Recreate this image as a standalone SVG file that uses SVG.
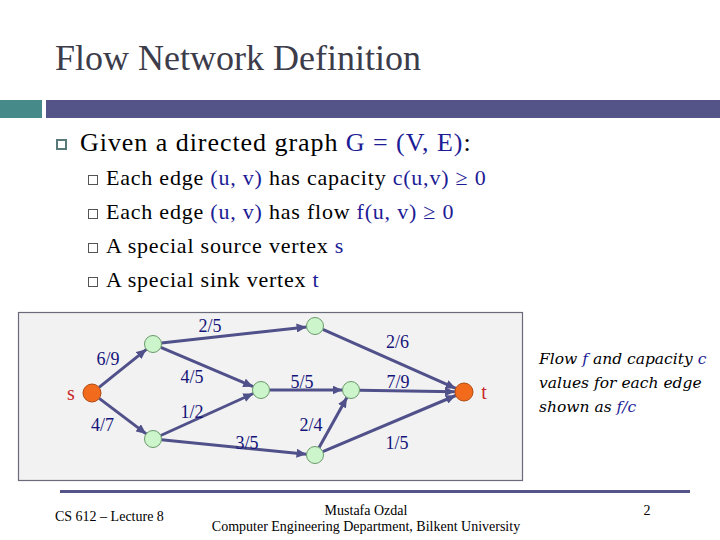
<svg xmlns="http://www.w3.org/2000/svg" width="720" height="540" viewBox="0 0 720 540">
<defs>
<style>
text{font-family:"Liberation Serif","Times New Roman",serif}
.title{font-size:36px;fill:#3c3c4a}
.main{font-size:26px;letter-spacing:0.95px;fill:#000}
.sub{font-size:22px;letter-spacing:0.78px;fill:#000}
.blue{fill:#1c1c96}
.lbl{font-size:18px;fill:#14147a}
.st{font-size:20px;fill:#c8282a}
.note{font-family:"DejaVu Serif",serif;font-style:italic;font-size:15.5px;fill:#000}
.foot{font-size:14px;fill:#000}
.edge{stroke:#50508a;stroke-width:3;fill:none;marker-end:url(#arr)}
.v{fill:#ccf5cc;stroke:#6a9a6a;stroke-width:1}
.term{fill:#f26a1c;stroke:#b04a10;stroke-width:1}
.subbox{fill:#fff;stroke:#555;stroke-width:1}
</style>
<marker id="arr" markerUnits="userSpaceOnUse" markerWidth="11" markerHeight="9" refX="10" refY="4.5" orient="auto">
<path d="M0,0 L10,4.5 L0,9 z" fill="#50508a"/>
</marker>
</defs>
<rect x="0" y="0" width="720" height="540" fill="#fff"/>
<text class="title" x="55" y="70">Flow Network Definition</text>
<rect x="0" y="100" width="42" height="18" fill="#468a8a"/>
<rect x="46" y="100" width="674" height="18" fill="#545489"/>
<rect x="57" y="140" width="9" height="9" fill="#fff" stroke="#5a7a7a" stroke-width="2"/>
<text class="main" x="80" y="151">Given a directed graph <tspan class="blue">G = (V, E)</tspan>:</text>
<rect class="subbox" x="88.5" y="175.5" width="9" height="9"/>
<text class="sub" x="106" y="185">Each edge <tspan class="blue">(u, v)</tspan> has capacity <tspan class="blue">c(u,v) ≥ 0</tspan></text>
<rect class="subbox" x="88.5" y="209.5" width="9" height="9"/>
<text class="sub" x="106" y="219">Each edge <tspan class="blue">(u, v)</tspan> has flow <tspan class="blue">f(u, v) ≥ 0</tspan></text>
<rect class="subbox" x="88.5" y="243.5" width="9" height="9"/>
<text class="sub" x="106" y="253">A special source vertex <tspan class="blue">s</tspan></text>
<rect class="subbox" x="88.5" y="277.5" width="9" height="9"/>
<text class="sub" x="106" y="287">A special sink vertex <tspan class="blue">t</tspan></text>
<rect x="18.5" y="312.5" width="504" height="168" fill="#f2f2f2" stroke="#6a6a7a" stroke-width="1.2"/>
<g id="connectors">
<line class="edge" x1="99" y1="387.4" x2="146.4" y2="349.3"/>
<line class="edge" x1="99.2" y1="398.4" x2="146.2" y2="433.9"/>
<line class="edge" x1="161.4" y1="343.1" x2="306.6" y2="326.9"/>
<line class="edge" x1="160.8" y1="347.3" x2="253.2" y2="386.7"/>
<line class="edge" x1="160.7" y1="435.5" x2="253.3" y2="393.5"/>
<line class="edge" x1="161.5" y1="439.8" x2="306.5" y2="454.2"/>
<line class="edge" x1="322.8" y1="329.4" x2="455.8" y2="388.4"/>
<line class="edge" x1="269.5" y1="390" x2="342.5" y2="390"/>
<line class="edge" x1="359.5" y1="390.2" x2="455" y2="391.8"/>
<line class="edge" x1="319.1" y1="447.6" x2="346.9" y2="397.4"/>
<line class="edge" x1="322.8" y1="451.7" x2="455.7" y2="395.5"/>
<text class="lbl" x="108" y="365" text-anchor="middle">6/9</text>
<text class="lbl" x="102.5" y="431" text-anchor="middle">4/7</text>
<text class="lbl" x="210" y="332" text-anchor="middle">2/5</text>
<text class="lbl" x="192" y="383" text-anchor="middle">4/5</text>
<text class="lbl" x="192" y="418" text-anchor="middle">1/2</text>
<text class="lbl" x="247" y="449" text-anchor="middle">3/5</text>
<text class="lbl" x="302" y="388" text-anchor="middle">5/5</text>
<text class="lbl" x="311" y="431" text-anchor="middle">2/4</text>
<text class="lbl" x="397.5" y="347.5" text-anchor="middle">2/6</text>
<text class="lbl" x="398" y="388" text-anchor="middle">7/9</text>
<text class="lbl" x="397" y="448.5" text-anchor="middle">1/5</text>
</g>
<g id="s"><circle class="term" cx="92" cy="393" r="9"/><text class="st" x="71" y="400" text-anchor="middle">s</text></g>
<g id="v1"><circle class="v" cx="153" cy="344" r="8.5"/></g>
<g id="v2"><circle class="v" cx="153" cy="439" r="8.5"/></g>
<g id="v3"><circle class="v" cx="315" cy="326" r="8.5"/></g>
<g id="v4"><circle class="v" cx="261" cy="390" r="8.5"/></g>
<g id="v5"><circle class="v" cx="351" cy="390" r="8.5"/></g>
<g id="v6"><circle class="v" cx="315" cy="455" r="8.5"/></g>
<g id="t"><circle class="term" cx="464" cy="392" r="9"/><text class="st" x="484" y="399" text-anchor="middle">t</text></g>
<text class="note" x="539" y="364">Flow <tspan class="blue">f</tspan> and capacity <tspan class="blue">c</tspan></text>
<text class="note" x="539" y="388">values for each edge</text>
<text class="note" x="539" y="412">shown as <tspan class="blue">f/c</tspan></text>
<rect x="60" y="490" width="630" height="3" fill="#545489"/>
<text class="foot" x="55" y="521">CS 612 – Lecture 8</text>
<text class="foot" x="366" y="515" text-anchor="middle">Mustafa Ozdal</text>
<text class="foot" x="366" y="531" text-anchor="middle">Computer Engineering Department, Bilkent University</text>
<text class="foot" x="647" y="515" text-anchor="middle">2</text>
</svg>
